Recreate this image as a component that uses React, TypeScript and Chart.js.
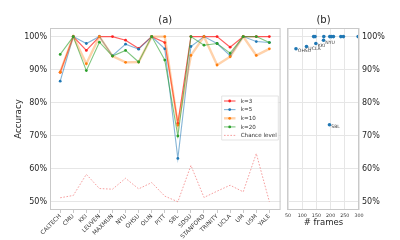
import React, { useEffect, useRef } from "react";
import { Chart, registerables } from "chart.js";

Chart.register(...registerables);

const CATS = ["CALTECH", "CMU", "KKI", "LEUVEN", "MAXMUN", "NYU", "OHSU", "OLIN", "PITT", "SBL", "SDSU", "STANFORD", "TRINITY", "UCLA", "UM", "USM", "YALE"];
const K3 = [89.2, 100, 95.8, 100, 100, 98.9, 96.4, 100, 98.2, 73.7, 100, 100, 100, 96.8, 100, 100, 100];
const K5 = [86.5, 100, 97.9, 100, 94.2, 97.7, 96.2, 100, 96.3, 63.1, 97.0, 100, 97.9, 94.2, 100, 98.5, 98.2];
const K10 = [89.2, 100, 91.8, 100, 94.1, 92.2, 92.3, 100, 100, 73.2, 94.3, 100, 91.4, 93.9, 100, 94.3, 96.3];
const K20 = [94.6, 100, 89.7, 98.3, 94.1, 95.8, 92.3, 100, 92.9, 69.9, 100, 97.4, 97.9, 95.0, 100, 100, 98.2];
const CHANCE = [51.2, 51.9, 58.3, 54.0, 53.8, 57.1, 53.9, 55.8, 51.7, 50.0, 61.0, 51.3, 53.2, 55.0, 53.0, 64.6, 50.0];

const Y_TICKS = [50, 60, 70, 80, 90, 100];

const FRAMES = [78, 115, 148, 175, 196, 140, 145, 176, 197, 203, 210, 236, 245, 297];
const B_ACC = [96.3, 97.0, 97.9, 98.9, 73.3, 100, 100, 100, 100, 100, 100, 100, 100, 100];
const B_LABELS = ["OHSU", "UCLA", "KKI", "NYU", "SBL", "", "", "", "", "", "", "", "", ""];
const FRAME_TICKS = [50, 100, 150, 200, 250, 300];

const FONT = "DejaVu Sans";
const YMIN = 47.5;
const YMAX = 102.6;

const SERIES = [
  { label: "k=3", data: K3, line: "rgba(255,40,40,0.75)", point: "#ff2020", width: 1.2, order: 5 },
  { label: "k=5", data: K5, line: "rgba(31,119,180,0.55)", point: "#1f77b4", width: 1.1, order: 4 },
  { label: "k=10", data: K10, line: "rgba(255,127,14,0.35)", point: "#ff7f0e", width: 2.4, order: 3 },
  { label: "k=20", data: K20, line: "rgba(44,160,44,0.6)", point: "#2ca02c", width: 1.1, order: 2 },
];

export default function App() {
  const refA = useRef<HTMLCanvasElement>(null);
  const refB = useRef<HTMLCanvasElement>(null);

  useEffect(() => {
    const datasetsA: any[] = SERIES.map((s) => ({
      label: s.label,
      data: s.data.map((v, i) => ({ x: i, y: v })),
      borderColor: s.line,
      borderWidth: s.width,
      pointRadius: 1.4,
      pointBorderWidth: 0,
      pointBackgroundColor: s.point,
      pointHoverRadius: 0,
      tension: 0,
      order: s.order,
    }));
    datasetsA.push({
      label: "Chance level",
      data: CHANCE.map((v, i) => ({ x: i, y: v })),
      borderColor: "rgba(240,90,90,0.65)",
      borderWidth: 0.9,
      borderDash: [1.6, 1.6],
      pointRadius: 0,
      tension: 0,
      order: 1,
    });

    const panelA = {
      id: "panelA",
      afterDraw(chart: any) {
        const ctx = chart.ctx;
        const { left, right, top, bottom } = chart.chartArea;
        ctx.save();
        ctx.strokeStyle = "#c9c9c9";
        ctx.lineWidth = 1;
        ctx.strokeRect(left + 0.5, top + 0.5, right - left - 1, bottom - top - 1);
        ctx.fillStyle = "#262626";
        ctx.textAlign = "center";
        ctx.textBaseline = "middle";
        ctx.font = `10px "${FONT}"`;
        ctx.fillText("(a)", (left + right) / 2, 20);
        ctx.save();
        ctx.translate(19, (top + bottom) / 2);
        ctx.rotate(-Math.PI / 2);
        ctx.font = `8.7px "${FONT}"`;
        ctx.fillText("Accuracy", 0, 0);
        ctx.restore();
        // legend
        const bx = 221.7, by = 96, bw = 56.6, bh = 44;
        ctx.fillStyle = "rgba(255,255,255,0.85)";
        ctx.strokeStyle = "#dcdcdc";
        ctx.lineWidth = 0.8;
        ctx.beginPath();
        ctx.rect(bx, by, bw, bh);
        ctx.fill();
        ctx.stroke();
        const rows = [
          ...SERIES.map((s) => ({ label: s.label, line: s.line, point: s.point, width: s.width, dash: [] as number[] })),
          { label: "Chance level", line: "rgba(240,90,90,0.65)", point: "", width: 0.9, dash: [1.6, 1.6] },
        ];
        const ys = [101, 109.6, 118.3, 126.9, 135.4];
        ctx.font = `5.6px "${FONT}"`;
        ctx.textAlign = "left";
        rows.forEach((r, i) => {
          const y = ys[i];
          ctx.strokeStyle = r.line;
          ctx.lineWidth = r.width;
          ctx.setLineDash(r.dash);
          ctx.beginPath();
          ctx.moveTo(224, y);
          ctx.lineTo(235.5, y);
          ctx.stroke();
          ctx.setLineDash([]);
          if (r.point) {
            ctx.fillStyle = r.point;
            ctx.beginPath();
            ctx.arc(229.7, y, 1.4, 0, Math.PI * 2);
            ctx.fill();
          }
          ctx.fillStyle = "#333";
          ctx.fillText(r.label, 240.7, y + 0.3);
        });
        ctx.restore();
      },
    };

    const chartA = new Chart(refA.current!, {
      type: "line",
      data: { datasets: datasetsA },
      options: {
        animation: false,
        responsive: false,
        devicePixelRatio: 1,
        events: [],
        layout: { padding: { top: 28, left: 0, right: 0, bottom: 0 } },
        plugins: { legend: { display: false }, tooltip: { enabled: false }, title: { display: false } },
        scales: {
          x: {
            type: "linear",
            min: -0.78,
            max: 16.86,
            afterBuildTicks: (s: any) => {
              s.ticks = CATS.map((_, i) => ({ value: i }));
            },
            afterFit: (s: any) => {
              s.height = 30;
            },
            ticks: {
              autoSkip: false,
              maxRotation: 45,
              minRotation: 45,
              padding: 0,
              color: "#333",
              font: { family: FONT, size: 5.8 },
              callback: (v: any) => CATS[v as number],
            },
            grid: { drawOnChartArea: false, drawTicks: true, tickLength: 3, color: "#c9c9c9" },
            border: { display: false },
          },
          y: {
            min: YMIN,
            max: YMAX,
            afterBuildTicks: (s: any) => {
              s.ticks = Y_TICKS.map((v) => ({ value: v }));
            },
            afterFit: (s: any) => {
              s.width = 50;
            },
            ticks: {
              padding: 3,
              color: "#262626",
              font: { family: FONT, size: 8 },
              callback: (v: any) => `${v}%`,
            },
            grid: { color: "#e6e6e6", drawTicks: false, lineWidth: 1 },
            border: { display: false },
          },
        },
      },
      plugins: [panelA],
    } as any);

    const panelB = {
      id: "panelB",
      afterDraw(chart: any) {
        const ctx = chart.ctx;
        const { left, right, top, bottom } = chart.chartArea;
        ctx.save();
        ctx.strokeStyle = "#c9c9c9";
        ctx.lineWidth = 1;
        ctx.strokeRect(left - 0.5, top + 0.5, right - left, bottom - top - 1);
        ctx.fillStyle = "#262626";
        ctx.textAlign = "center";
        ctx.textBaseline = "middle";
        ctx.font = `10px "${FONT}"`;
        ctx.fillText("(b)", (left + right) / 2, 20);
        ctx.font = `8.5px "${FONT}"`;
        ctx.fillText("# frames", (left + right) / 2, 222.5);
        const meta = chart.getDatasetMeta(0);
        ctx.font = `4.6px "${FONT}"`;
        ctx.textAlign = "left";
        ctx.fillStyle = "#444";
        meta.data.forEach((pt: any, i: number) => {
          if (B_LABELS[i]) ctx.fillText(B_LABELS[i], pt.x + 1.8, pt.y + 2.3);
        });
        ctx.restore();
      },
    };

    const chartB = new Chart(refB.current!, {
      type: "scatter",
      data: {
        datasets: [
          {
            data: FRAMES.map((f, i) => ({ x: f, y: B_ACC[i] })),
            pointRadius: 1.8,
            pointBorderWidth: 0,
            pointBackgroundColor: "#1f77b4",
            pointHoverRadius: 0,
          },
        ],
      },
      options: {
        animation: false,
        responsive: false,
        devicePixelRatio: 1,
        events: [],
        layout: { padding: { top: 28, left: 1, right: 0, bottom: 0 } },
        plugins: { legend: { display: false }, tooltip: { enabled: false } },
        scales: {
          x: {
            type: "linear",
            min: 50,
            max: 300,
            afterBuildTicks: (s: any) => {
              s.ticks = FRAME_TICKS.map((v) => ({ value: v }));
            },
            afterFit: (s: any) => {
              s.height = 30;
            },
            ticks: {
              padding: 3,
              maxRotation: 0,
              minRotation: 0,
              color: "#333",
              font: { family: FONT, size: 4.8 },
            },
            grid: { color: "#e6e6e6", drawTicks: false },
            border: { display: false },
          },
          y: {
            position: "right",
            min: YMIN,
            max: YMAX,
            afterBuildTicks: (s: any) => {
              s.ticks = Y_TICKS.map((v) => ({ value: v }));
            },
            afterFit: (s: any) => {
              s.width = 41;
            },
            ticks: {
              padding: 3,
              color: "#262626",
              font: { family: FONT, size: 8 },
              callback: (v: any) => `${v}%`,
            },
            grid: { color: "#e6e6e6", drawTicks: false },
            border: { display: false },
          },
        },
      },
      plugins: [panelB],
    } as any);

    return () => {
      chartA.destroy();
      chartB.destroy();
    };
  }, []);

  return (
    <div style={{ position: "fixed", left: 0, top: 0, width: 400, height: 240, background: "#fff" }}>
      <canvas ref={refA} width={282} height={240} style={{ position: "absolute", left: 0, top: 0, width: 282, height: 240 }} />
      <canvas ref={refB} width={118} height={240} style={{ position: "absolute", left: 282, top: 0, width: 118, height: 240 }} />
    </div>
  );
}
